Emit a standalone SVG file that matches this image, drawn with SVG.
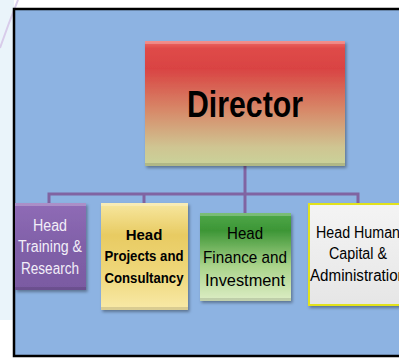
<svg xmlns="http://www.w3.org/2000/svg" width="399" height="359" viewBox="0 0 399 359">
<defs>
<linearGradient id="gDir" x1="0" y1="0" x2="0" y2="1">
<stop offset="0" stop-color="#EE6A66"/>
<stop offset="0.06" stop-color="#DF4A48"/>
<stop offset="0.22" stop-color="#D94343"/>
<stop offset="0.55" stop-color="#D78868"/>
<stop offset="0.85" stop-color="#CFC592"/>
<stop offset="1" stop-color="#C9D39A"/>
</linearGradient>
<linearGradient id="gProj" x1="0" y1="0" x2="0" y2="1">
<stop offset="0" stop-color="#F7E7A0"/>
<stop offset="0.3" stop-color="#E8CB62"/>
<stop offset="0.65" stop-color="#EFD77A"/>
<stop offset="1" stop-color="#F8EAA8"/>
</linearGradient>
<linearGradient id="gFin" x1="0" y1="0" x2="0" y2="1">
<stop offset="0" stop-color="#4FA84A"/>
<stop offset="0.2" stop-color="#3D9636"/>
<stop offset="0.6" stop-color="#A9D38A"/>
<stop offset="1" stop-color="#DDEDC5"/>
</linearGradient>
<linearGradient id="gTrn" x1="0" y1="0" x2="0" y2="1">
<stop offset="0" stop-color="#8F6BB6"/>
<stop offset="0.5" stop-color="#8060A8"/>
<stop offset="1" stop-color="#7A5AA2"/>
</linearGradient>
<linearGradient id="gHR" x1="0" y1="0" x2="0" y2="1">
<stop offset="0" stop-color="#F4F4F4"/>
<stop offset="1" stop-color="#E6E6E6"/>
</linearGradient>
<filter id="sh" x="-10%" y="-10%" width="130%" height="130%">
<feDropShadow dx="1.5" dy="2" stdDeviation="1.5" flood-color="#000" flood-opacity="0.35"/>
</filter>
</defs>
<style>
.conn{stroke:#8064A2;stroke-width:3;fill:none}
.t{font-family:"Liberation Sans","Open Sans",sans-serif;text-anchor:middle}
.hi{fill:#FFFFFF;opacity:0.25}
.lo{fill:#000000;opacity:0.12}
.w{fill:#F2EEF8;font-size:16px}
.b{fill:#000;font-size:15px;font-weight:bold}
.r{fill:#000;font-size:17px}
.h{fill:#000;font-size:16px}
</style>
<rect x="0" y="0" width="399" height="359" fill="#FFFFFF"/>
<rect x="0" y="0" width="14" height="320" fill="#EAF4FA"/>
<path d="M18 0 Q8 25 0 48" stroke="#D8CCEA" stroke-width="2" fill="none"/>
<rect x="14" y="9" width="400" height="347" fill="#8DB3E2" stroke="#000" stroke-width="2.5"/>
<g id="connectors">
<path class="conn" d="M245 166 V194"/>
<path class="conn" d="M49 203 V194 H358 V203"/>
<path class="conn" d="M144 194 V203"/>
<path class="conn" d="M245 194 V213"/>
</g>
<g id="director">
<rect x="145" y="41" width="200" height="125" fill="url(#gDir)" filter="url(#sh)"/>
<rect x="145" y="41" width="200" height="3" class="hi"/>
<rect x="145" y="163" width="200" height="3" class="lo"/>
<text class="t" x="245" y="117" font-size="36" font-weight="bold" textLength="116" lengthAdjust="spacingAndGlyphs" fill="#000">Director</text>
</g>
<g id="training">
<rect x="15" y="203" width="71" height="87" fill="url(#gTrn)" filter="url(#sh)"/>
<rect x="15" y="203" width="71" height="3" class="hi"/>
<rect x="15" y="287" width="71" height="3" class="lo"/>
<text class="t w" x="50" y="231" textLength="34" lengthAdjust="spacingAndGlyphs">Head</text>
<text class="t w" x="50" y="252" textLength="64" lengthAdjust="spacingAndGlyphs">Training &amp;</text>
<text class="t w" x="50" y="274" textLength="58" lengthAdjust="spacingAndGlyphs">Research</text>
</g>
<g id="projects">
<rect x="101" y="203" width="87" height="107" fill="url(#gProj)" filter="url(#sh)"/>
<rect x="101" y="203" width="87" height="3" class="hi"/>
<rect x="101" y="307" width="87" height="3" class="lo"/>
<text class="t b" x="144" y="240">Head</text>
<text class="t b" x="144" y="261" textLength="79" lengthAdjust="spacingAndGlyphs">Projects and</text>
<text class="t b" x="144" y="283" textLength="79" lengthAdjust="spacingAndGlyphs">Consultancy</text>
</g>
<g id="finance">
<rect x="200" y="213" width="91" height="88" fill="url(#gFin)" filter="url(#sh)"/>
<rect x="200" y="213" width="91" height="3" class="hi"/>
<rect x="200" y="298" width="91" height="3" class="lo"/>
<text class="t r" x="245" y="239" textLength="36" lengthAdjust="spacingAndGlyphs">Head</text>
<text class="t r" x="245" y="263" textLength="84" lengthAdjust="spacingAndGlyphs">Finance and</text>
<text class="t r" x="245" y="286" textLength="80" lengthAdjust="spacingAndGlyphs">Investment</text>
</g>
<g id="hr">
<rect x="309" y="204" width="100" height="101" fill="url(#gHR)" stroke="#E2E21E" stroke-width="2" filter="url(#sh)"/>
<text class="t h" x="358" y="238" textLength="84" lengthAdjust="spacingAndGlyphs">Head Human</text>
<text class="t h" x="358" y="259" textLength="58" lengthAdjust="spacingAndGlyphs">Capital &amp;</text>
<text class="t h" x="358" y="281" textLength="96" lengthAdjust="spacingAndGlyphs">Administration</text>
</g>
</svg>
